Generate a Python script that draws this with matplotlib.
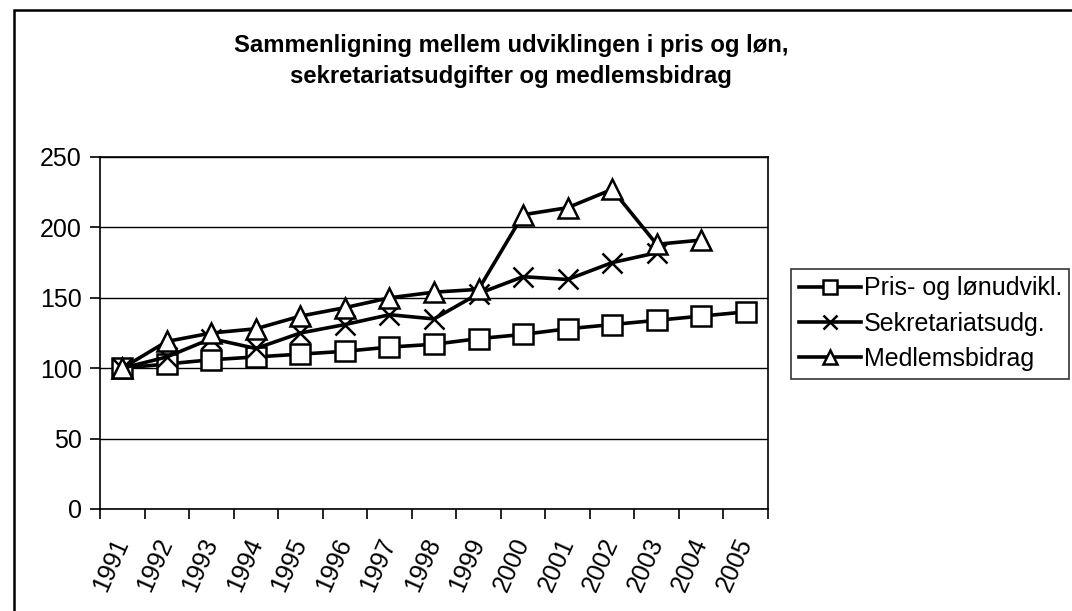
import numpy as np
import matplotlib
matplotlib.use("Agg")
from matplotlib import pyplot as plt
from matplotlib.patches import Rectangle

years = ["1991", "1992", "1993", "1994", "1995", "1996", "1997", "1998",
         "1999", "2000", "2001", "2002", "2003", "2004", "2005"]

pris = [100, 103, 106, 108, 110, 112, 115, 117, 121, 124, 128, 131, 134, 137, 140]
sekretariat = [100, 108, 121, 114, 125, 131, 138, 135, 153, 165, 163, 175, 182]
medlemsbidrag = [100, 119, 125, 128, 137, 143, 150, 154, 156, 209, 214, 227, 188, 191]

series_names = ["Pris- og lønudvikl.", "Sekretariatsudg.", "Medlemsbidrag"]

plt.rcParams['font.family'] = ['Liberation Sans', 'DejaVu Sans']

fig = plt.figure(figsize=(10.72, 6.11), dpi=100)
ax = fig.add_axes([100/1072, 1 - 509/611, 668/1072, 352/611])

x = np.arange(len(years))
lw = 2.6
ax.plot(x[:len(pris)], pris, color='k', lw=lw, marker='s', ms=14,
        mfc='white', mec='k', mew=1.8, label=series_names[0])
ax.plot(x[:len(sekretariat)], sekretariat, color='k', lw=lw, marker='x', ms=15,
        mec='k', mew=1.8, label=series_names[1])
ax.plot(x[:len(medlemsbidrag)], medlemsbidrag, color='k', lw=lw, marker='^', ms=15,
        mfc='white', mec='k', mew=1.8, label=series_names[2])

ax.set_ylim(0, 250)
ax.set_yticks(np.arange(0, 251, 50))
ax.yaxis.grid(True, color='k', lw=1)
ax.set_axisbelow(True)
ax.set_xlim(-0.5, len(years) - 0.5)

# tick marks between categories, labels at category centres
ax.set_xticks(np.arange(-0.5, len(years), 1.0))
ax.set_xticklabels([])
ax.set_xticks(x, minor=True)
ax.set_xticklabels(years, minor=True, rotation=66, ha='right', va='center',
                   rotation_mode='anchor', fontsize=18)
ax.tick_params(axis='x', which='minor', length=0, pad=22)
ax.tick_params(axis='x', which='major', length=7, width=1.2, direction='out')
ax.tick_params(axis='y', length=7, width=1.2, labelsize=18, pad=6)

for s in ax.spines.values():
    s.set_color('k')
    s.set_linewidth(1.2)

fig.text(0.477, 1 - 61/611, "Sammenligning mellem udviklingen i pris og løn,\n"
         "sekretariatsudgifter og medlemsbidrag",
         ha='center', va='center', fontsize=17.2, fontweight='bold',
         linespacing=1.4)

leg = fig.legend(loc='upper left', bbox_to_anchor=(791/1072, 1 - 269/611),
                 fontsize=18, frameon=True, fancybox=False, handlelength=2.5,
                 handletextpad=0.1, borderpad=0.3, labelspacing=0.45,
                 borderaxespad=0)
leg.get_frame().set_edgecolor('k')
leg.get_frame().set_linewidth(1.2)
for h in leg.legend_handles:
    h.set_markersize(10)

# chart area border
fig.patches.append(Rectangle((14/1072, -0.1), 1.2, 1 - 10/611 + 0.1,
                             transform=fig.transFigure, fill=False,
                             edgecolor='k', lw=1.8, clip_on=False))

fig.savefig("out.png", dpi=100)
